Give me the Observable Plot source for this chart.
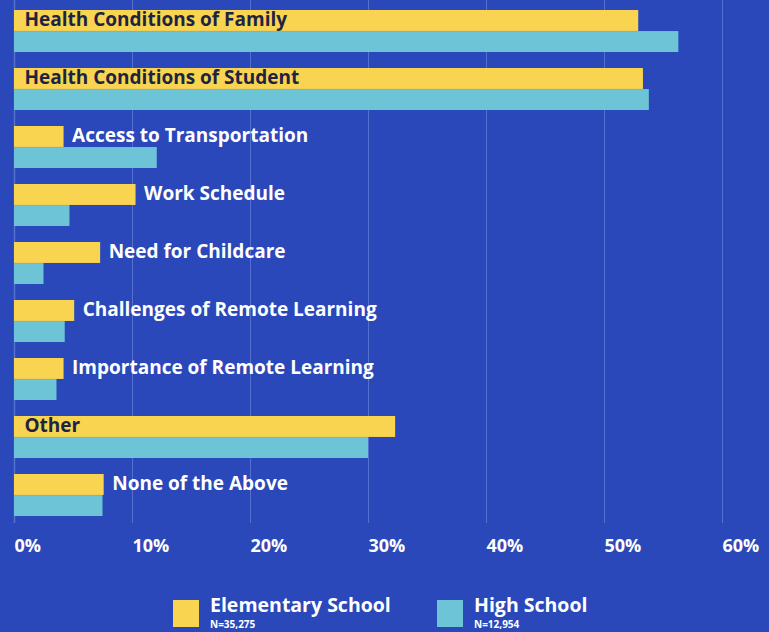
<!DOCTYPE html>
<html>
<head>
<meta charset="utf-8">
<script src="https://cdn.jsdelivr.net/npm/d3@7"></script>
<script src="https://cdn.jsdelivr.net/npm/@observablehq/plot@0.6"></script>
<style>
  html, body { margin: 0; padding: 0; background: #2a48b9; }
  body { width: 769px; height: 632px; overflow: hidden; font-family: "Open Sans", sans-serif; }
  #legend { position: relative; height: 57px; color: #fff; }
  .sw { position: absolute; top: 25px; width: 26px; height: 27px; }
  .lab { position: absolute; top: 18px; font-weight: 700; font-size: 19.5px; line-height: 24px; white-space: nowrap; }
  .n { position: absolute; top: 43px; font-weight: 700; font-size: 10px; line-height: 12px; white-space: nowrap; }
</style>
</head>
<body>
<div id="chart"></div>
<div id="legend"></div>
<script>
const categories = [
  "Health Conditions of Family",
  "Health Conditions of Student",
  "Access to Transportation",
  "Work Schedule",
  "Need for Childcare",
  "Challenges of Remote Learning",
  "Importance of Remote Learning",
  "Other",
  "None of the Above"
];
const elementary = [52.9, 53.3, 4.2, 10.3, 7.3, 5.1, 4.2, 32.3, 7.6];
const highSchool = [56.3, 53.8, 12.1, 4.7, 2.5, 4.3, 3.6, 30.0, 7.5];
const labelInside = ["Health Conditions of Family", "Health Conditions of Student", "Other"];
const xTicks = [0, 10, 20, 30, 40, 50, 60];
const seriesNames = ["Elementary School", "High School"];
const seriesN = ["N=35,275", "N=12,954"];

const colors = { elem: "#f9d450", high: "#6cc4d6", grid: "#5670cf", dark: "#1d2443" };

const rows = categories.map((c, i) => ({ category: c, elem: elementary[i], high: highSchool[i], inside: labelInside.includes(c) }));

const W = 769, H = 575;
const yRange = [8, 518];
const padInner = 0.28;
const step = (yRange[1] - yRange[0]) / (categories.length - padInner);
const half = step * (1 - padInner) / 2;

const chart = Plot.plot({
  width: W,
  height: H,
  marginLeft: 14,
  marginRight: 47,
  marginTop: 0,
  marginBottom: 52,
  style: { background: "transparent", fontFamily: "Open Sans, sans-serif" },
  x: { domain: [0, 60], ticks: xTicks, tickFormat: d => d + "%" },
  y: { domain: categories, range: yRange, paddingInner: padInner, paddingOuter: 0, axis: null },
  marks: [
    Plot.gridX(xTicks.slice(1), { stroke: colors.grid, strokeOpacity: 1, strokeWidth: 1 }),
    Plot.ruleX([0], { stroke: colors.grid, strokeWidth: 1.5 }),
    Plot.barX(rows, { x: "elem", y: "category", fill: colors.elem, insetBottom: half }),
    Plot.barX(rows, { x: "high", y: "category", fill: colors.high, insetTop: half }),
    Plot.text(rows.filter(d => d.inside), {
      x: 0, y: "category", dy: -half / 2 - 1, dx: 10,
      text: "category", textAnchor: "start", fill: colors.dark,
      fontSize: 19, fontWeight: 700
    }),
    Plot.text(rows.filter(d => !d.inside), {
      x: "elem", y: "category", dy: -half / 2 - 1, dx: 8,
      text: "category", textAnchor: "start", fill: "#ffffff",
      fontSize: 19, fontWeight: 700
    }),
    Plot.axisX({ ticks: xTicks, tickSize: 0, tickPadding: 16, textAnchor: "start", fill: "#ffffff", fontSize: 18, fontWeight: 700, tickFormat: d => d + "%" })
  ]
});
document.getElementById("chart").appendChild(chart);

const legend = document.getElementById("legend");
const legendItems = [
  { name: seriesNames[0], n: seriesN[0], color: colors.elem, left: 173 },
  { name: seriesNames[1], n: seriesN[1], color: colors.high, left: 437 }
];
legendItems.forEach(it => {
  const sw = document.createElement("div");
  sw.className = "sw"; sw.style.left = it.left + "px"; sw.style.background = it.color;
  const lab = document.createElement("div");
  lab.className = "lab"; lab.style.left = (it.left + 37) + "px"; lab.textContent = it.name;
  const n = document.createElement("div");
  n.className = "n"; n.style.left = (it.left + 37) + "px"; n.textContent = it.n;
  legend.append(sw, lab, n);
});
</script>
</body>
</html>
